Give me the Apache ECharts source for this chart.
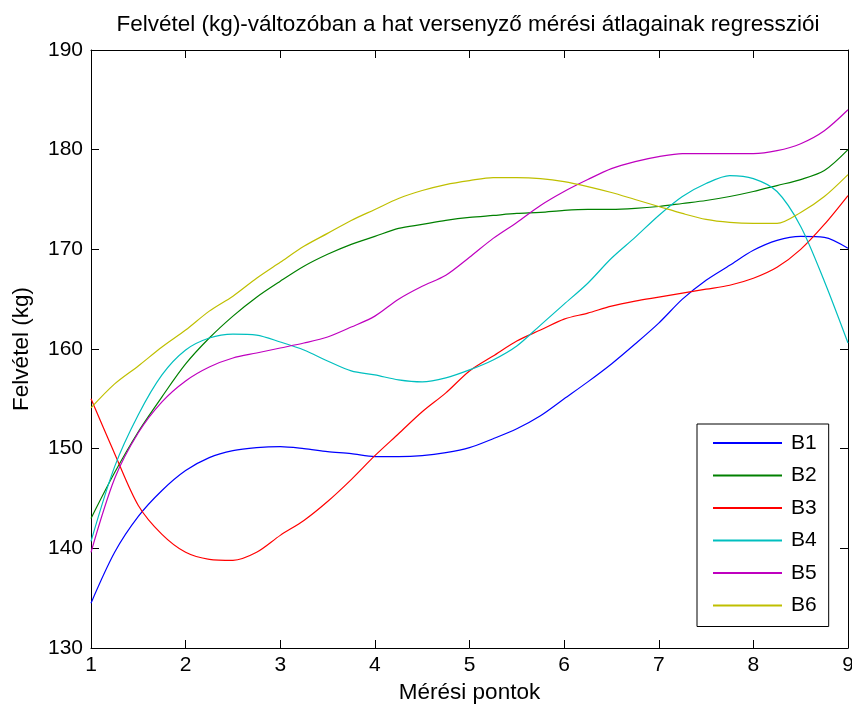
<!DOCTYPE html>
<html>
<head>
<meta charset="utf-8">
<script src="https://cdn.jsdelivr.net/npm/echarts@6/dist/echarts.min.js"></script>
<style>
  html, body { margin: 0; padding: 0; background: #fff; }
  #chart { width: 852px; height: 706px; }
</style>
</head>
<body>
<div id="chart"></div>
<script>
// measurement points, sampled every quarter step
const xs = [1, 1.25, 1.5, 1.75, 2, 2.25, 2.5, 2.75, 3, 3.25, 3.5, 3.75, 4, 4.25, 4.5, 4.75,
  5, 5.25, 5.5, 5.75, 6, 6.25, 6.5, 6.75, 7, 7.25, 7.5, 7.75, 8, 8.25, 8.5, 8.75, 9];

const b1 = [134.5, 139.6, 143.2, 145.8, 147.8, 149.1, 149.8, 150.1, 150.2, 150.0, 149.7, 149.5, 149.2, 149.2, 149.3, 149.6,
  150.1, 151.0, 152.0, 153.3, 155.0, 156.7, 158.5, 160.5, 162.6, 165.0, 166.9, 168.4, 169.9, 170.9, 171.3, 171.2, 170.1];
const b2 = [143.0, 147.6, 151.7, 155.2, 158.5, 161.1, 163.3, 165.2, 166.8, 168.3, 169.5, 170.5, 171.3, 172.1, 172.5, 172.9,
  173.2, 173.4, 173.6, 173.7, 173.9, 174.0, 174.0, 174.1, 174.3, 174.6, 174.9, 175.3, 175.8, 176.4, 177.0, 177.9, 180.0];
const b3 = [155.0, 149.5, 144.3, 141.4, 139.6, 138.9, 138.8, 139.6, 141.3, 142.8, 144.7, 146.9, 149.3, 151.5, 153.7, 155.6,
  157.8, 159.3, 160.8, 161.9, 163.0, 163.6, 164.3, 164.8, 165.2, 165.6, 166.0, 166.4, 167.1, 168.2, 170.0, 172.5, 175.4];
const b4 = [140.7, 148.2, 153.4, 157.4, 159.9, 161.1, 161.5, 161.4, 160.7, 159.9, 158.8, 157.8, 157.4, 156.9, 156.7, 157.1,
  157.9, 158.9, 160.3, 162.4, 164.5, 166.6, 169.1, 171.2, 173.4, 175.3, 176.6, 177.4, 177.1, 175.8, 172.3, 166.8, 160.6];
const b5 = [139.6, 147.0, 151.6, 154.7, 156.8, 158.2, 159.1, 159.6, 160.1, 160.6, 161.2, 162.2, 163.3, 165.0, 166.3, 167.4,
  169.2, 171.1, 172.7, 174.4, 175.8, 177.0, 178.1, 178.8, 179.3, 179.6, 179.6, 179.6, 179.6, 179.9, 180.6, 181.9, 184.0];
const b6 = [154.1, 156.5, 158.3, 160.2, 161.9, 163.8, 165.3, 167.1, 168.7, 170.3, 171.6, 172.9, 174.0, 175.1, 175.9, 176.5,
  176.9, 177.2, 177.2, 177.1, 176.8, 176.3, 175.7, 175.0, 174.3, 173.6, 173.0, 172.7, 172.6, 172.6, 173.7, 175.3, 177.5];

const seriesNames = ['B1', 'B2', 'B3', 'B4', 'B5', 'B6'];
const seriesValues = [b1, b2, b3, b4, b5, b6];
const colors = ['#0000ff', '#008000', '#ff0000', '#00bfbf', '#bf00bf', '#bfbf00'];

const font = 'Liberation Sans, Arial, sans-serif';

const chart = echarts.init(document.getElementById('chart'));

const tickStyle = { show: true, inside: true, length: 8, lineStyle: { color: '#000', width: 1 } };

const option = {
  animation: false,
  backgroundColor: '#fff',
  title: {
    text: 'Felvétel (kg)-változóban a hat versenyző mérési átlagainak regressziói',
    left: 463,
    top: 8,
    textAlign: 'center',
    textStyle: { fontFamily: font, fontSize: 22.5, fontWeight: 'normal', color: '#000' }
  },
  legend: {
    data: seriesNames,
    orient: 'vertical',
    left: 697,
    top: 424,
    padding: [8, 12, 10, 15],
    itemWidth: 69,
    itemHeight: 14,
    itemGap: 10.5,
    borderColor: '#000',
    borderWidth: 1,
    borderRadius: 0,
    backgroundColor: '#fff',
    itemStyle: { opacity: 0 },
    textStyle: { fontFamily: font, fontSize: 21, color: '#000', lineHeight: 22, padding: [0, 0, 0, 4] }
  },
  grid: { left: 91, right: 4, top: 50, bottom: 58, containLabel: false, outerBoundsMode: 'none' },
  xAxis: [
    {
      type: 'value',
      min: 1,
      max: 9,
      interval: 1,
      name: 'Mérési pontok',
      nameLocation: 'middle',
      nameGap: 31,
      nameTextStyle: { fontFamily: font, fontSize: 22.5, color: '#000' },
      axisLine: { onZero: false, lineStyle: { color: '#000', width: 1 } },
      axisTick: tickStyle,
      axisLabel: { fontFamily: font, fontSize: 21, color: '#000', margin: 7 },
      splitLine: { show: false }
    },
    {
      type: 'value',
      position: 'top',
      min: 1,
      max: 9,
      interval: 1,
      axisLine: { onZero: false, lineStyle: { color: '#000', width: 1 } },
      axisTick: tickStyle,
      axisLabel: { show: false },
      splitLine: { show: false }
    }
  ],
  yAxis: [
    {
      type: 'value',
      min: 130,
      max: 190,
      interval: 10,
      name: 'Felvétel (kg)',
      nameLocation: 'middle',
      nameGap: 58,
      nameRotate: 90,
      nameTextStyle: { fontFamily: font, fontSize: 22.5, color: '#000' },
      axisLine: { show: true, onZero: false, lineStyle: { color: '#000', width: 1 } },
      axisTick: tickStyle,
      axisLabel: { fontFamily: font, fontSize: 21, color: '#000', margin: 8 },
      splitLine: { show: false }
    },
    {
      type: 'value',
      position: 'right',
      min: 130,
      max: 190,
      interval: 10,
      axisLine: { show: true, onZero: false, lineStyle: { color: '#000', width: 1 } },
      axisTick: tickStyle,
      axisLabel: { show: false },
      splitLine: { show: false }
    }
  ],
  series: seriesNames.map((name, i) => ({
    name: name,
    type: 'line',
    xAxisIndex: 0,
    yAxisIndex: 0,
    data: xs.map((x, j) => [x, seriesValues[i][j]]),
    smooth: 0.3,
    symbol: 'none',
    color: colors[i],
    lineStyle: { width: 1.2, color: colors[i] }
  }))
};

chart.setOption(option);
</script>
</body>
</html>
